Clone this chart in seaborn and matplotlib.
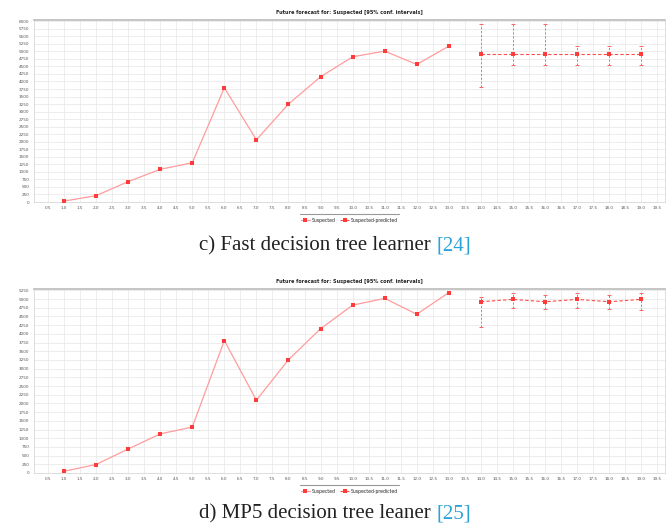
import numpy as np
import pandas as pd
import matplotlib
matplotlib.use("Agg")
import matplotlib.pyplot as plt
from matplotlib.lines import Line2D
import seaborn as sns

# observed values (steps 1..13) and forecasts (steps 14..19)
steps = [1, 2, 3, 4, 5, 6, 7, 8, 9, 10, 11, 12, 13]
pred_steps = [14, 15, 16, 17, 18, 19]

fdt_actual = [30, 210, 675, 1085, 1300, 3790, 2065, 3250, 4155, 4818, 5007, 4565, 5172]
fdt_pred = [4907, 4907, 4907, 4907, 4907, 4907]
fdt_low = [3803, 4542, 4542, 4542, 4542, 4542]
fdt_high = [5902, 5902, 5902, 5172, 5172, 5172]

mp5_actual = [50, 244, 689, 1125, 1320, 3808, 2093, 3256, 4148, 4826, 5020, 4564, 5186]
mp5_pred = [4924, 4991, 4924, 4991, 4924, 4991]
mp5_low = [4198, 4750, 4709, 4750, 4709, 4700]
mp5_high = [5070, 5166, 5116, 5166, 5116, 5166]

xticks = [i / 2 for i in range(1, 40)]
xlabels = ["%.1f" % v for v in xticks]

captions = ["c) Fast decision tree learner ", "d) MP5 decision tree leaner "]
refs = ["[24]", "[25]"]

sns.set_theme(style="white")
plt.rcParams["font.family"] = ["DejaVu Sans"]

fig = plt.figure(figsize=(6.7, 5.25), dpi=100)

panels = [
    (fdt_actual, fdt_pred, fdt_low, fdt_high, 6000, [0.05, 1 - 202 / 525, 0.943, 182 / 525], 246),
    (mp5_actual, mp5_pred, mp5_low, mp5_high, 5250, [0.05, 1 - 473 / 525, 0.943, 184 / 525], 514),
]

legends = []
for k, (act, pred, lo, hi, ytop, rect, cap_y) in enumerate(panels):
    ax = fig.add_axes(rect)
    df_a = pd.DataFrame({"step": steps, "value": act})
    df_p = pd.DataFrame({"step": pred_steps, "value": pred})

    ax.vlines(pred_steps, lo, hi, colors="#ff6262", linestyles=(0, (2, 2)), linewidth=0.7, zorder=2)
    ax.scatter(pred_steps * 2, lo + hi, marker="_", s=5, color="#ff6262", linewidth=0.7, zorder=2)
    sns.lineplot(data=df_a, x="step", y="value", ax=ax, color="#ff9c9c", linewidth=0.9,
                 marker="s", markersize=2.4, markerfacecolor="#ff3b3b", markeredgewidth=0,
                 label="Suspected", zorder=3)
    sns.lineplot(data=df_p, x="step", y="value", ax=ax, color="#ff4a4a", linewidth=0.8,
                 linestyle=(0, (3, 2)), marker="s", markersize=2.4, markerfacecolor="#ff3b3b",
                 markeredgewidth=0, label="Suspected-predicted", zorder=3)

    ax.set_xlim(0.05, 19.75)
    ax.set_ylim(0, ytop + 40)
    ax.set_xticks(xticks)
    ax.set_xticklabels(xlabels, fontsize=3, color="#555555")
    ax.set_yticks(np.arange(0, ytop + 1, 250))
    ax.set_yticklabels([str(v) for v in np.arange(0, ytop + 1, 250)], fontsize=3, color="#555555")
    ax.tick_params(length=1.5, width=0.4, pad=1.5, colors="#888888", labelcolor="#555555")
    ax.grid(True, color="#e6e6e6", linewidth=0.5)
    ax.set_axisbelow(True)
    for s in ax.spines.values():
        s.set_color("#d8d8d8")
        s.set_linewidth(0.6)
    ax.spines["top"].set_color("#bbbbbb")
    ax.spines["top"].set_linewidth(1.2)
    ax.set_xlabel("")
    ax.set_ylabel("")
    ax.set_title("Future forecast for: Suspected [95% conf. intervals]", fontsize=3.6,
                 fontweight="bold", pad=4)
    leg = ax.legend(loc="upper center", bbox_to_anchor=(0.5, -0.07), ncol=2, fontsize=3.3,
                    frameon=False, handlelength=2.0, columnspacing=1.0, handletextpad=0.4,
                    borderpad=0.2)
    legends.append(leg)

    fig.text(0.5, 1 - cap_y / 525, captions[k], ha="right", va="center",
             fontsize=15, family=["Liberation Serif"], color="#222222")
    fig.text(0.5, 1 - cap_y / 525, refs[k], ha="left", va="center",
             fontsize=15, family=["Liberation Serif"], color="#2aa3d8")

fig.canvas.draw()
r = fig.canvas.get_renderer()

# thin gray rule above each legend
for leg in legends:
    bb = leg.get_window_extent(r).transformed(fig.transFigure.inverted())
    y = bb.y1 + 3 / 525
    fig.add_artist(Line2D([bb.x0, bb.x1], [y, y],
                          transform=fig.transFigure, color="#999999", linewidth=0.8))

# shift caption pairs so the whole caption is centered
texts = fig.texts
for i in range(0, len(texts), 2):
    a, b = texts[i], texts[i + 1]
    wa = a.get_window_extent(r).width / fig.bbox.width
    wb = b.get_window_extent(r).width / fig.bbox.width
    x0 = 0.5 - (wa + wb) / 2
    a.set_position((x0 + wa, a.get_position()[1]))
    b.set_position((x0 + wa, b.get_position()[1]))

fig.savefig("out.png", dpi=100)
